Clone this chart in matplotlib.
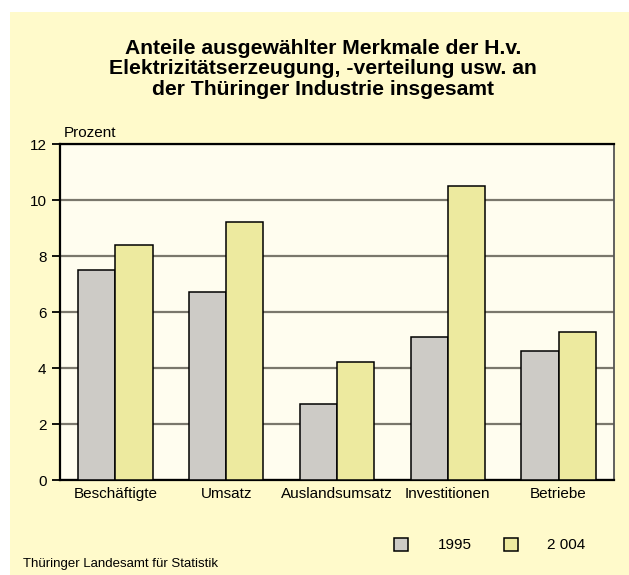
import numpy as np
import matplotlib
matplotlib.use('Agg')
import matplotlib.pyplot as plt
from matplotlib.patches import Rectangle

plt.rcParams['font.family'] = ['Liberation Sans', 'DejaVu Sans']

# Daten
kategorien = ['Beschäftigte', 'Umsatz', 'Auslandsumsatz', 'Investitionen', 'Betriebe']
werte_1995 = [7.5, 6.7, 2.7, 5.1, 4.6]
werte_2004 = [8.4, 9.2, 4.2, 10.5, 5.3]
jahre = ['1995', '2 004']
y_ticks = [0, 2, 4, 6, 8, 10, 12]

titel = ('Anteile ausgewählter Merkmale der H.v.\n'
         'Elektrizitätserzeugung, -verteilung usw. an\n'
         'der Thüringer Industrie insgesamt')

fig = plt.figure(figsize=(6.29, 5.75), dpi=100, facecolor='white')

# gelber Hintergrund mit weissem Rand oben/links
fig.patches.append(Rectangle((10 / 629, 0), 1 - 10 / 629, 1 - 12 / 575,
                             transform=fig.transFigure, facecolor='#FFFACB',
                             edgecolor='none', zorder=-10))

ax = fig.add_axes([60 / 629, 95 / 575, 554 / 629, 336 / 575])
ax.set_zorder(1)
ax.set_facecolor('#FFFDEF')

x = np.arange(len(kategorien))
b = 0.335
ax.bar(x - b / 2, werte_1995, width=b, color='#CDCBC6', edgecolor='black',
       linewidth=1.1, zorder=3, label=jahre[0])
ax.bar(x + b / 2, werte_2004, width=b, color='#EDEA9F', edgecolor='black',
       linewidth=1.1, zorder=3, label=jahre[1])

ax.set_xlim(-0.5, len(kategorien) - 0.5)
ax.set_ylim(0, 12)
ax.set_yticks(y_ticks)
ax.set_xticks(x)
ax.set_xticklabels(kategorien)
ax.tick_params(axis='x', length=0, pad=5, labelsize=11)
ax.tick_params(axis='y', length=5.8, width=1.3, pad=4, labelsize=11)
ax.yaxis.grid(True, color='#7A776C', linewidth=1.6, zorder=1)
ax.set_axisbelow(True)

for s in ['left', 'bottom', 'top']:
    ax.spines[s].set_linewidth(1.6)
    ax.spines[s].set_color('black')
ax.spines['right'].set_linewidth(1.3)
ax.spines['right'].set_color('#555555')

ax.text(0.006, 1.012, 'Prozent', transform=ax.transAxes, fontsize=11,
        ha='left', va='bottom')

fig.text(323 / 629, 1 - 69 / 575, titel, ha='center', va='center',
         fontsize=15.2, fontweight='bold', linespacing=1.13)

fig.legend(loc='center', bbox_to_anchor=(490 / 629, 30 / 575), ncol=2,
           frameon=False, fontsize=11, handlelength=0.92, handleheight=0.92,
           handletextpad=1.9, columnspacing=2.15)

fig.text(23 / 629, 11 / 575, 'Thüringer Landesamt für Statistik',
         fontsize=9.5, ha='left', va='center')

fig.savefig('out.png', dpi=100, facecolor=fig.get_facecolor())
